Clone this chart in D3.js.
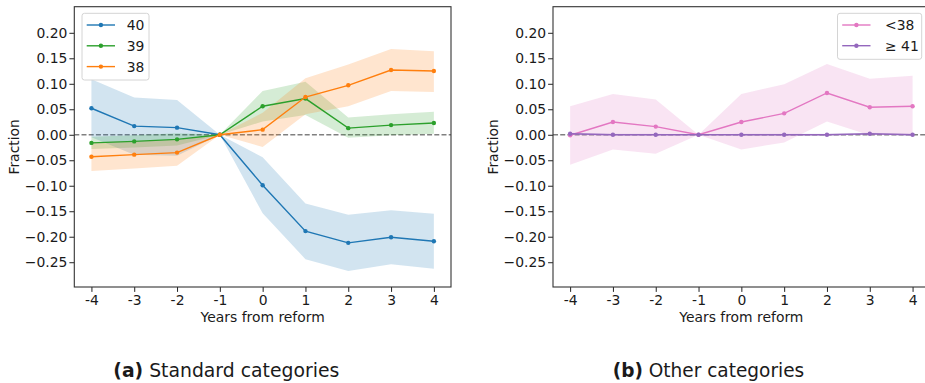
<!DOCTYPE html>
<html>
<head>
<meta charset="utf-8">
<script src="https://cdn.jsdelivr.net/npm/d3@7"></script>
<style>
  html, body { margin: 0; padding: 0; background: #fff; }
  svg { display: block; }
  text { font-family: "DejaVu Sans", sans-serif; fill: #1a1a1a; }
</style>
</head>
<body>
<svg id="fig" width="925" height="383"></svg>
<script>
// Event-study estimates with 95% bands, by category
const years = [-4, -3, -2, -1, 0, 1, 2, 3, 4];
const yTicks = [0.20, 0.15, 0.10, 0.05, 0.00, -0.05, -0.10, -0.15, -0.20, -0.25];

const est40 = [0.052, 0.017, 0.014, 0, -0.099, -0.189, -0.212, -0.201, -0.209];
const lo40  = [-0.005, -0.039, -0.041, 0, -0.154, -0.244, -0.267, -0.254, -0.263];
const hi40  = [0.109, 0.073, 0.068, 0, -0.044, -0.135, -0.157, -0.148, -0.155];

const est39 = [-0.016, -0.013, -0.009, 0, 0.056, 0.071, 0.013, 0.019, 0.023];
const lo39  = [-0.028, -0.025, -0.021, 0, 0.026, 0.039, -0.006, -0.001, 0.002];
const hi39  = [-0.004, -0.001, 0.003, 0, 0.086, 0.104, 0.034, 0.040, 0.045];

const est38 = [-0.043, -0.039, -0.035, 0, 0.010, 0.074, 0.097, 0.127, 0.125];
const lo38  = [-0.071, -0.066, -0.061, 0, -0.024, 0.040, 0.056, 0.086, 0.084];
const hi38  = [-0.015, -0.012, -0.010, 0, 0.043, 0.111, 0.138, 0.168, 0.164];

const estLt38 = [-0.001, 0.025, 0.016, 0, 0.025, 0.042, 0.082, 0.054, 0.056];
const loLt38  = [-0.059, -0.029, -0.037, 0, -0.029, -0.015, 0.026, -0.001, 0.000];
const hiLt38  = [0.056, 0.080, 0.069, 0, 0.080, 0.099, 0.139, 0.110, 0.116];

const estGe41 = [0.002, 0, 0, 0, 0, 0, 0, 0.002, 0];
const loGe41  = [0.000, -0.002, -0.002, 0, -0.002, -0.002, -0.002, 0.000, -0.002];
const hiGe41  = [0.004, 0.002, 0.002, 0, 0.002, 0.002, 0.002, 0.004, 0.002];

const panelA = [
  { name: "40", color: "#1f77b4", est: est40, lo: lo40, hi: hi40 },
  { name: "39", color: "#2ca02c", est: est39, lo: lo39, hi: hi39 },
  { name: "38", color: "#ff7f0e", est: est38, lo: lo38, hi: hi38 }
];
const panelB = [
  { name: "<38", color: "#e377c2", est: estLt38, lo: loLt38, hi: hiLt38 },
  { name: "\u2265 41", color: "#9467bd", est: estGe41, lo: loGe41, hi: hiGe41 }
];

const svg = d3.select("#fig");
const FS = 13.9;

function drawPanel(cfg) {
  const { left, right, top, bottom, series, legend, caption, captionX } = cfg;
  const g = svg.append("g");
  const x = d3.scaleLinear().domain([-4.4, 4.4]).range([left, right]);
  const y = d3.scaleLinear().domain([-0.2986, 0.2512]).range([bottom, top]);

  const clipId = "clip" + Math.round(left);
  svg.append("clipPath").attr("id", clipId)
    .append("rect").attr("x", left).attr("y", top)
    .attr("width", right - left).attr("height", bottom - top);

  const plot = g.append("g").attr("clip-path", `url(#${clipId})`);

  // zero reference line
  plot.append("line")
    .attr("x1", left).attr("x2", right)
    .attr("y1", y(0)).attr("y2", y(0))
    .attr("stroke", "#808080").attr("stroke-width", 1.3)
    .attr("stroke-dasharray", "5,2.2");

  const area = d3.area()
    .x((d, i) => x(years[i]))
    .y0(d => y(d[0])).y1(d => y(d[1]));
  const line = d3.line().x((d, i) => x(years[i])).y(d => y(d));

  series.forEach(s => {
    plot.append("path")
      .datum(s.lo.map((v, i) => [v, s.hi[i]]))
      .attr("d", area)
      .attr("fill", s.color).attr("fill-opacity", 0.2);
  });
  series.forEach(s => {
    plot.append("path").datum(s.est).attr("d", line)
      .attr("fill", "none").attr("stroke", s.color).attr("stroke-width", 1.4);
    plot.selectAll(null).data(s.est).enter().append("circle")
      .attr("cx", (d, i) => x(years[i])).attr("cy", d => y(d))
      .attr("r", 2.2).attr("fill", s.color);
  });

  // axes
  const yAxis = d3.axisLeft(y).tickValues(yTicks).tickSize(4.9).tickPadding(2)
    .tickFormat(d => (d < 0 ? "\u2212" : "") + Math.abs(d).toFixed(2));
  const xAxis = d3.axisBottom(x).tickValues(years).tickSize(4.9).tickPadding(3)
    .tickFormat(d => d < 0 ? "-" + Math.abs(d) : String(d));
  const ya = g.append("g").attr("transform", `translate(${left},0)`).call(yAxis);
  const xa = g.append("g").attr("transform", `translate(0,${bottom})`).call(xAxis);
  [ya, xa].forEach(a => {
    a.select(".domain").remove();
    a.selectAll("line").attr("stroke", "#222").attr("stroke-width", 1);
    a.selectAll("text").attr("font-size", FS).attr("font-family", "DejaVu Sans").attr("fill", "#1a1a1a");
  });

  // frame
  g.append("rect").attr("x", left).attr("y", top)
    .attr("width", right - left).attr("height", bottom - top)
    .attr("fill", "none").attr("stroke", "#333").attr("stroke-width", 1.1);

  g.append("text").attr("x", (left + right) / 2).attr("y", 322)
    .attr("text-anchor", "middle").attr("font-size", FS).text("Years from reform");
  g.append("text")
    .attr("transform", `translate(${left - 60},${(top + bottom) / 2}) rotate(-90)`)
    .attr("text-anchor", "middle").attr("dy", "0.35em")
    .attr("font-size", FS).text("Fraction");

  // legend
  const lg = g.append("g");
  lg.append("rect").attr("x", legend.x).attr("y", legend.y)
    .attr("width", legend.w).attr("height", legend.h).attr("rx", 2.5)
    .attr("fill", "#fff").attr("fill-opacity", 0.8)
    .attr("stroke", "#d4d4d4").attr("stroke-width", 1);
  series.forEach((s, i) => {
    const yy = legend.y + 11.7 + i * legend.step;
    lg.append("line").attr("x1", legend.x + 4.7).attr("x2", legend.x + 33)
      .attr("y1", yy).attr("y2", yy).attr("stroke", s.color).attr("stroke-width", 1.4);
    lg.append("circle").attr("cx", legend.x + 18.9).attr("cy", yy).attr("r", 2.2).attr("fill", s.color);
    lg.append("text").attr("x", legend.x + legend.tx).attr("y", yy).attr("dy", "0.36em")
      .attr("font-size", FS).text(s.name);
  });

  // caption
  const cap = svg.append("text").attr("x", captionX).attr("y", 377)
    .attr("font-family", "'Fira Sans', 'Open Sans', Lato, sans-serif")
    .attr("font-size", 20);
  cap.append("tspan").attr("font-weight", "bold").text(caption[0]);
  cap.append("tspan").text(" " + caption[1]);
  cap.attr("textLength", caption[2]).attr("lengthAdjust", "spacingAndGlyphs");
}

drawPanel({
  left: 74.3, right: 451, top: 6.7, bottom: 287, series: panelA,
  legend: { x: 82, y: 13.3, w: 67, h: 66.7, step: 20.8, tx: 44.7 },
  caption: ["(a)", "Standard categories", 226], captionX: 113.3
});
drawPanel({
  left: 553, right: 929.7, top: 6.7, bottom: 287, series: panelB,
  legend: { x: 837.5, y: 13.3, w: 84.2, h: 46, step: 20.7, tx: 47.5 },
  caption: ["(b)", "Other categories", 191.5], captionX: 612.7
});
</script>
</body>
</html>
